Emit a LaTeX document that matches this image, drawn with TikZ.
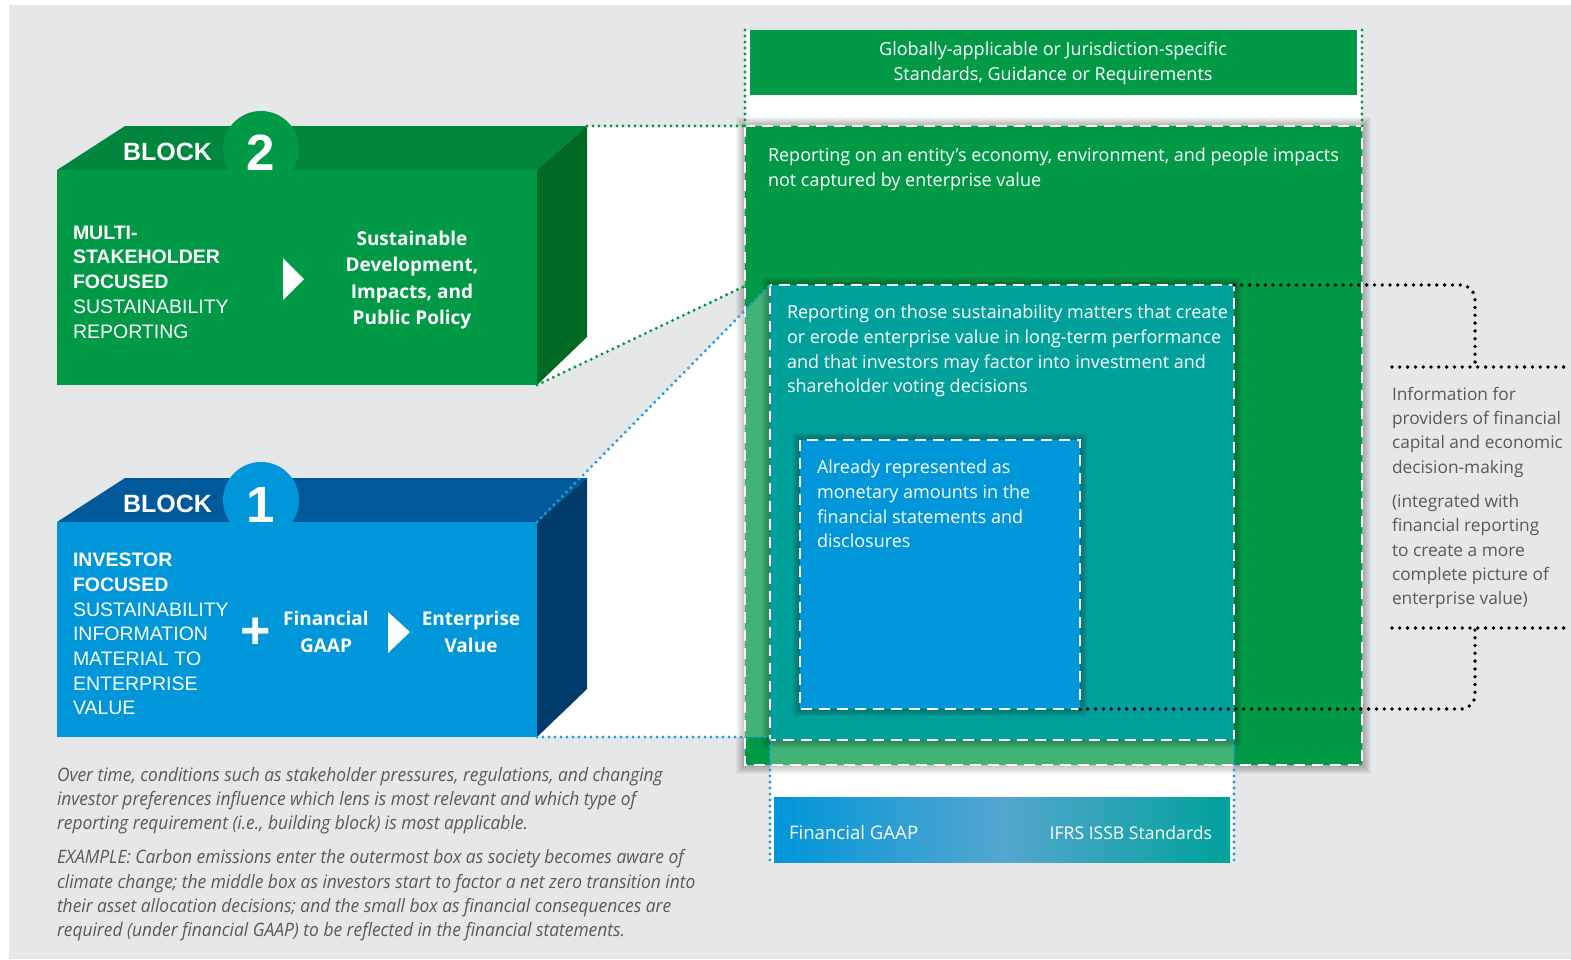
\documentclass[tikz,border=0pt]{standalone}
\usepackage{fontspec}
\setmainfont{Open Sans}
\newfontfamily\capsfont{Liberation Sans}
\newfontfamily\notefont[FakeStretch=0.94]{Open Sans}
\usetikzlibrary{calc}
\definecolor{ifrsgreen}{HTML}{009A47}
\definecolor{topgreen}{HTML}{00863D}
\definecolor{sidegreen}{HTML}{006A22}
\definecolor{ifrsteal}{HTML}{00A19B}
\definecolor{ifrsblue}{HTML}{0096DA}
\definecolor{topblue}{HTML}{00599B}
\definecolor{sideblue}{HTML}{003B6D}
\definecolor{midblue}{HTML}{55A6CF}
\definecolor{dotblue}{HTML}{1E9FDC}
\definecolor{panelgray}{HTML}{E6E7E8}
\definecolor{notegray}{HTML}{58595B}
\tikzset{
	% ------- every something
	every node/.style={
		inner sep=0pt, outer sep=0pt,
	},
	% ------- custom
	dashed border/.style={
		draw=white, line width=2.6pt,
		dash pattern=on 11pt off 7pt,
	},
	green dots/.style={
		draw=ifrsgreen, line width=3.3pt, line cap=round,
		dash pattern=on 0pt off 6pt,
	},
	blue dots/.style={
		draw=dotblue, line width=3.3pt, line cap=round,
		dash pattern=on 0pt off 6pt,
	},
	black dots/.style={
		draw=black, line width=3.8pt, line cap=round,
		dash pattern=on 0pt off 7.8pt,
	},
	soft shadow/.style={
		black, opacity=0.035,
	},
	block title/.style={
		font=\capsfont\bfseries\fontsize{25}{25}\selectfont, text=white, anchor=west,
	},
	block number/.style={
		font=\capsfont\bfseries\fontsize{51}{51}\selectfont, text=white,
	},
	caps text/.style={
		font=\capsfont\fontsize{19.5}{24.7}\selectfont, text=white, align=left, anchor=west,
	},
	bold text/.style={
		font=\bfseries\fontsize{19}{26.5}\selectfont, text=white, align=center,
	},
	body text/.style={
		font=\fontsize{18}{24.8}\selectfont, text=white, align=left, anchor=west,
	},
	info text/.style={
		font=\fontsize{17.3}{24.3}\selectfont, text=notegray, align=left, anchor=west,
	},
	note text/.style={
		font=\notefont\itshape\fontsize{18.5}{24.2}\selectfont, text=notegray, align=left, anchor=west,
	},
}

\begin{document}
\begin{tikzpicture}[x=1pt, y=-1pt]

% coordinates %{{{1

	% block 2
	\coordinate (B2fl) at (57,170);
	\coordinate (B2fr) at (537,170);
	\coordinate (B2br) at (537,385);
	\coordinate (B2bl) at (57,385);
	\coordinate (B2tl) at (125,126);
	\coordinate (B2tr) at (587,126);
	\coordinate (B2sr) at (587,337);
	\coordinate (B2badge) at (261,149);

	% block 1
	\coordinate (B1fl) at (57,522);
	\coordinate (B1fr) at (537,522);
	\coordinate (B1br) at (537,737);
	\coordinate (B1bl) at (57,737);
	\coordinate (B1tl) at (125,478);
	\coordinate (B1tr) at (587,478);
	\coordinate (B1sr) at (587,689);
	\coordinate (B1badge) at (261,500);

	% lenses
	\coordinate (outerNW) at (745,126);
	\coordinate (outerNE) at (1362,126);
	\coordinate (outerSE) at (1362,765);
	\coordinate (middleNW) at (770,285);
	\coordinate (middleNE) at (1234,285);
	\coordinate (middleSE) at (1234,740);
	\coordinate (middleSW) at (770,740);
	\coordinate (innerNW) at (800,440);
	\coordinate (innerSE) at (1080,709);
	\coordinate (greenfoot) at (745,286);
	\coordinate (bluefoot) at (770,737);

	% header and footer
	\coordinate (headL) at (745,30);
	\coordinate (headR) at (1362,30);
	\coordinate (headNW) at (750,30);
	\coordinate (headSE) at (1357,95);
	\coordinate (barNW) at (774,797);
	\coordinate (barSE) at (1230,862);
	\coordinate (barL) at (770,862);
	\coordinate (barR) at (1234,862);

	% bracket
	\coordinate (bracketTop) at (1475,367);
	\coordinate (bracketBot) at (1475,628);
	\coordinate (infoTopL) at (1392,367);
	\coordinate (infoTopR) at (1571,367);
	\coordinate (infoBotL) at (1392,628);
	\coordinate (infoBotR) at (1571,628);

% background %{{{1

	\useasboundingbox (0,0) rectangle (1571,959);
	\fill[panelgray] (9,5) rectangle (1571,959);

% projections %{{{1

	\fill[white] (headL) rectangle (outerNE);
	\fill[white] (B2fr) -- (B2tr) -- (outerNW) -- (greenfoot) -- (B2br) -- cycle;
	\fill[white] (B1fr) -- (middleNW) -- (bluefoot) -- (B1br) -- cycle;
	\fill[white] (middleSW) rectangle (barR);

% lenses %{{{1

	\foreach \s in {1,...,9}
		\fill[soft shadow] ($(outerNW)+(-\s,-\s)$) rectangle ($(outerSE)+(\s,\s)$);
	\fill[ifrsgreen] (outerNW) rectangle (outerSE);
	\fill[white, opacity=0.25] (B1fr) -- (middleNW) -- (bluefoot) -- (B1br) -- cycle;
	\fill[white, opacity=0.25] (middleSW) rectangle (barR);
	\foreach \s in {1,...,8}
		\fill[soft shadow] ($(middleNW)+(-\s,-\s)$) rectangle ($(middleSE)+(\s,\s)$);
	\fill[ifrsteal] (middleNW) rectangle (middleSE);
	\foreach \s in {1,...,8}
		\fill[soft shadow] ($(innerNW)+(-\s,-\s)$) rectangle ($(innerSE)+(\s,\s)$);
	\fill[ifrsblue] (innerNW) rectangle (innerSE);
	\draw[dashed border] (outerNW) rectangle (outerSE);
	\draw[dashed border] (middleNW) rectangle (middleSE);
	\draw[dashed border] (innerNW) rectangle (innerSE);

	\fill[ifrsgreen] (headNW) rectangle (headSE);
	\shade[left color=ifrsblue, right color=ifrsteal, middle color=midblue]
		(barNW) rectangle (barSE);

% blocks %{{{1

	\fill[topgreen] (B2fl) -- (B2tl) -- (B2tr) -- (B2fr) -- cycle;
	\fill[ifrsgreen] (B2badge) circle [radius=38pt];
	\fill[ifrsgreen] (B2fl) rectangle (B2br);
	\fill[sidegreen] (B2fr) -- (B2tr) -- (B2sr) -- (B2br) -- cycle;

	\fill[topblue] (B1fl) -- (B1tl) -- (B1tr) -- (B1fr) -- cycle;
	\fill[ifrsblue] (B1badge) circle [radius=38pt];
	\fill[ifrsblue] (B1fl) rectangle (B1br);
	\fill[sideblue] (B1fr) -- (B1tr) -- (B1sr) -- (B1br) -- cycle;

	% arrows
	\fill[white] (283,258) -- (304,279) -- (283,300) -- cycle;
	\fill[white] (388,612) -- (410,632) -- (388,653) -- cycle;

% connectors %{{{1

	\draw[green dots] (headL) -- (outerNW);
	\draw[green dots] (headR) -- (outerNE);
	\draw[green dots] (B2tr) -- (outerNW);
	\draw[green dots] (B2br) -- (greenfoot);

	\draw[blue dots] (B1fr) -- (middleNW);
	\draw[blue dots] (B1br) -- (bluefoot);
	\draw[blue dots] (middleSW) -- (barL);
	\draw[blue dots] (middleSE) -- (barR);

	\draw[black dots, rounded corners=14pt] (middleNE) -| (bracketTop);
	\draw[black dots, rounded corners=14pt] (innerSE) -| (bracketBot);
	\draw[black dots] (infoTopL) -- (infoTopR);
	\draw[black dots] (infoBotL) -- (infoBotR);

% labels %{{{1

	\node[block title] (b2title) at (123,152) {BLOCK};
	\node[block number] (b2num) at (261,153) {2};
	\node[caps text] (b2lens) at (73,282)
		{\textbf{MULTI-}\\\textbf{STAKEHOLDER}\\\textbf{FOCUSED}\\SUSTAINABILITY\\REPORTING};
	\node[bold text] (b2goal) at (412,280)
		{Sustainable\\Development,\\Impacts, and\\Public Policy};

	\node[block title] (b1title) at (123,504) {BLOCK};
	\node[block number] (b1num) at (261,505) {1};
	\node[caps text] (b1lens) at (73,634)
		{\textbf{INVESTOR}\\\textbf{FOCUSED}\\SUSTAINABILITY\\INFORMATION\\MATERIAL TO\\ENTERPRISE\\VALUE};
	\node[block number, font=\capsfont\bfseries\fontsize{52}{52}\selectfont] (b1plus) at (256,633) {+};
	\node[bold text] (b1gaap) at (326,632) {Financial\\GAAP};
	\node[bold text] (b1value) at (471,632) {Enterprise\\Value};

	\node[body text, align=center, anchor=center] (headtext) at (1053,63)
		{Globally-applicable or Jurisdiction-specific\\Standards, Guidance or Requirements};
	\node[body text] (outertext) at (768,169)
		{Reporting on an entity’s economy, environment, and people impacts\\not captured by enterprise value};
	\node[body text] (middletext) at (787,351)
		{Reporting on those sustainability matters that create\\or erode enterprise value in long-term performance\\and that investors may factor into investment and\\shareholder voting decisions};
	\node[body text] (innertext) at (817,504)
		{Already represented as\\monetary amounts in the\\financial statements and\\disclosures};
	\node[body text, font=\fontsize{18.6}{20}\selectfont] (gaaptext) at (789,833) {Financial GAAP};
	\node[body text, font=\fontsize{17.6}{20}\selectfont, anchor=east] (issbtext) at (1212,833) {IFRS ISSB Standards};

	\node[info text] (infotext) at (1392,498)
		{Information for\\providers of financial\\capital and economic\\decision-making\\[10pt](integrated with\\financial reporting\\to create a more\\complete picture of\\enterprise value)};

	\node[note text] (notetext) at (57,854)
		{Over time, conditions such as stakeholder pressures, regulations, and changing\\investor preferences influence which lens is most relevant and which type of\\reporting requirement (i.e., building block) is most applicable.\\[10pt]EXAMPLE: Carbon emissions enter the outermost box as society becomes aware of\\climate change; the middle box as investors start to factor a net zero transition into\\their asset allocation decisions; and the small box as financial consequences are\\required (under financial GAAP) to be reflected in the financial statements.};

% closing %{{{1

\end{tikzpicture}
\end{document}
